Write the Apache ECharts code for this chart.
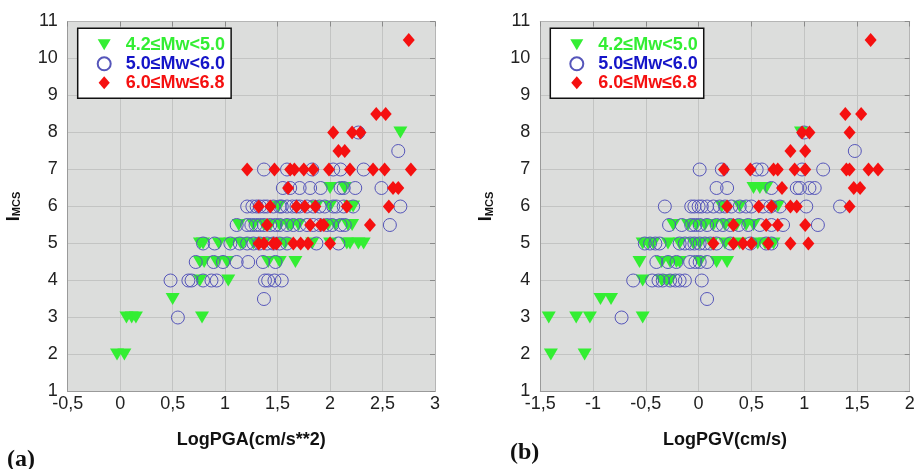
<!DOCTYPE html>
<html>
<head>
<meta charset="utf-8">
<script src="https://cdn.jsdelivr.net/npm/echarts@6/dist/echarts.min.js"></script>
<style>
html,body{margin:0;padding:0;background:#fff;}
#chart{width:918px;height:469px;}
</style>
</head>
<body>
<div id="chart"></div>
<script>
// ---- data ----
var seriesNames = ['4.2≤Mw<5.0', '5.0≤Mw<6.0', '6.0≤Mw≤6.8'];
var pgaTicks = [-0.5, 0, 0.5, 1, 1.5, 2, 2.5, 3];
var pgvTicks = [-1.5, -1, -0.5, 0, 0.5, 1, 1.5, 2];
var imcsTicks = [1, 2, 3, 4, 5, 6, 7, 8, 9, 10, 11];

var pgaGreen = [
  [-0.03,2],[0.04,2],
  [0.06,3],[0.11,3],[0.15,3],[0.78,3],
  [0.50,3.5],
  [0.76,4],[1.03,4],
  [0.76,4.5],[0.80,4.5],[0.92,4.5],[1.02,4.5],[1.41,4.5],[1.52,4.5],[1.67,4.5],
  [0.76,5],[0.79,5],[0.94,5],[1.05,5],[1.15,5],[1.17,5],[1.27,5],[1.37,5],[1.49,5],[1.57,5],[1.83,5],[2.0,5],[2.16,5],[2.19,5],[2.27,5],[2.32,5],
  [1.13,5.5],[1.27,5.5],[1.37,5.5],[1.43,5.5],[1.52,5.5],[1.60,5.5],[1.63,5.5],[1.70,5.5],[1.98,5.5],[2.05,5.5],[2.17,5.5],[2.21,5.5],
  [1.51,6],[1.87,6],[2.0,6],[2.19,6],[2.22,6],
  [2.0,6.5],[2.14,6.5],
  [2.67,8]
];
var pgaBlue = [
  [0.55,3],[1.37,3.5],
  [0.48,4],[0.65,4],[0.68,4],[0.79,4],[0.87,4],[0.92,4],[1.38,4],[1.41,4],[1.47,4],[1.54,4],
  [0.72,4.5],[0.89,4.5],[0.98,4.5],[1.11,4.5],[1.22,4.5],[1.36,4.5],[1.48,4.5],
  [0.79,5],[0.90,5],[1.05,5],[1.14,5],[1.21,5],[1.27,5],[1.33,5],[1.40,5],[1.46,5],[1.52,5],[1.59,5],[1.87,5],[2.08,5],
  [1.11,5.5],[1.21,5.5],[1.25,5.5],[1.29,5.5],[1.33,5.5],[1.37,5.5],[1.43,5.5],[1.48,5.5],[1.52,5.5],[1.59,5.5],[1.65,5.5],[1.71,5.5],[1.78,5.5],[1.84,5.5],[1.90,5.5],[1.97,5.5],[2.02,5.5],[2.10,5.5],[2.14,5.5],[2.57,5.5],
  [1.21,6],[1.26,6],[1.30,6],[1.33,6],[1.37,6],[1.40,6],[1.46,6],[1.52,6],[1.54,6],[1.59,6],[1.64,6],[1.68,6],[1.71,6],[1.78,6],[1.84,6],[1.90,6],[1.95,6],[2.03,6],[2.06,6],[2.13,6],[2.22,6],[2.67,6],
  [1.55,6.5],[1.62,6.5],[1.71,6.5],[1.81,6.5],[1.91,6.5],[2.10,6.5],[2.13,6.5],[2.24,6.5],[2.49,6.5],
  [1.37,7],[1.59,7],[1.83,7],[2.03,7],[2.10,7],[2.32,7],
  [2.65,7.5],
  [2.27,8]
];
var pgaRed = [
  [1.32,5],[1.37,5],[1.46,5],[1.49,5],[1.65,5],[1.72,5],[1.79,5],[2.0,5],
  [1.40,5.5],[1.81,5.5],[1.91,5.5],[1.94,5.5],[2.38,5.5],
  [1.32,6],[1.43,6],[1.68,6],[1.76,6],[1.86,6],[2.16,6],[2.56,6],
  [1.60,6.5],[2.60,6.5],[2.65,6.5],
  [1.21,7],[1.47,7],[1.62,7],[1.66,7],[1.75,7],[1.84,7],[1.99,7],[2.19,7],[2.41,7],[2.52,7],[2.77,7],
  [2.08,7.5],[2.14,7.5],
  [2.03,8],[2.21,8],[2.29,8],
  [2.44,8.5],[2.53,8.5],
  [2.75,10.5]
];
var pgvGreen = [
  [-1.40,2],[-1.08,2],
  [-1.42,3],[-1.16,3],[-1.03,3],[-0.53,3],
  [-0.93,3.5],[-0.83,3.5],
  [-0.53,4],[-0.35,4],[-0.30,4],[-0.27,4],
  [-0.56,4.5],[-0.35,4.5],[-0.27,4.5],[-0.21,4.5],[-0.18,4.5],[0.01,4.5],[0.17,4.5],[0.27,4.5],
  [-0.53,5],[-0.48,5],[-0.43,5],[-0.29,5],[-0.18,5],[-0.05,5],[0.01,5],[0.12,5],[0.25,5],[0.39,5],[0.56,5],[0.63,5],[0.71,5],
  [-0.24,5.5],[-0.10,5.5],[-0.02,5.5],[0.06,5.5],[0.14,5.5],[0.25,5.5],[0.36,5.5],[0.45,5.5],[0.52,5.5],
  [0.22,6],[0.39,6],[0.75,6],
  [0.52,6.5],[0.58,6.5],[0.64,6.5],
  [0.97,8]
];
var pgvBlue = [
  [-0.73,3],[0.08,3.5],
  [-0.62,4],[-0.44,4],[-0.38,4],[-0.34,4],[-0.27,4],[-0.22,4],[-0.18,4],[-0.13,4],[0.03,4],
  [-0.40,4.5],[-0.29,4.5],[-0.21,4.5],[-0.08,4.5],[-0.03,4.5],[0.01,4.5],[0.08,4.5],
  [-0.51,5],[-0.46,5],[-0.41,5],[-0.37,5],[-0.18,5],[-0.13,5],[-0.08,5],[-0.04,5],[0.01,5],[0.06,5],[0.11,5],[0.17,5],[0.30,5],[0.49,5],[0.64,5],[0.69,5],
  [-0.28,5.5],[-0.16,5.5],[-0.07,5.5],[-0.03,5.5],[0.01,5.5],[0.08,5.5],[0.17,5.5],[0.23,5.5],[0.30,5.5],[0.38,5.5],[0.47,5.5],[0.58,5.5],[0.69,5.5],[0.80,5.5],[1.13,5.5],
  [-0.32,6],[-0.07,6],[-0.04,6],[0.0,6],[0.03,6],[0.08,6],[0.14,6],[0.20,6],[0.25,6],[0.31,6],[0.39,6],[0.45,6],[0.50,6],[0.61,6],[0.68,6],[0.77,6],[1.02,6],[1.34,6],
  [0.17,6.5],[0.27,6.5],[0.69,6.5],[0.93,6.5],[0.96,6.5],[1.05,6.5],[1.10,6.5],
  [0.01,7],[0.22,7],[0.55,7],[0.60,7],[0.98,7],[1.18,7],
  [1.48,7.5],
  [1.00,8]
];
var pgvRed = [
  [0.14,5],[0.33,5],[0.42,5],[0.50,5],[0.66,5],[0.87,5],[1.04,5],
  [0.33,5.5],[0.64,5.5],[0.75,5.5],[1.01,5.5],
  [0.27,6],[0.57,6],[0.69,6],[0.87,6],[0.93,6],[1.43,6],
  [0.79,6.5],[1.47,6.5],[1.53,6.5],
  [0.24,7],[0.49,7],[0.71,7],[0.75,7],[0.91,7],[1.01,7],[1.40,7],[1.43,7],[1.61,7],[1.70,7],
  [0.87,7.5],[1.01,7.5],
  [0.98,8],[1.05,8],[1.43,8],
  [1.39,8.5],[1.54,8.5],
  [1.63,10.5]
];

// ---- styles ----
var FONT = '"Liberation Sans", Arial, sans-serif';
var GREEN = '#33ee33', BLUE_TXT = '#1414c8', BLUE = '#5656ba', RED = '#f51010';
var PLOT_BG = '#dcdddc', GRID_LINE = '#c3c4c3';

function commaFmt(v){ return String(v).replace('.', ','); }

function mkX(gridIndex, ticks, name){
  return [{
    type: 'value', gridIndex: gridIndex, position: 'bottom',
    min: ticks[0], max: ticks[ticks.length-1], interval: ticks[1]-ticks[0],
    name: name, nameLocation: 'middle', nameGap: 40,
    nameTextStyle: {fontFamily: FONT, fontSize: 18, fontWeight: 'bold', color: '#111'},
    axisLine: {show: true, onZero: false, lineStyle: {color: '#9a9a9a', width: 1}},
    axisTick: {show: false},
    axisLabel: {show: true, formatter: commaFmt, margin: 4, fontFamily: FONT, fontSize: 18, color: '#222', showMinLabel: true, showMaxLabel: true},
    splitLine: {show: true, lineStyle: {color: GRID_LINE, width: 1}}
  }, {
    type: 'value', gridIndex: gridIndex, position: 'top',
    min: ticks[0], max: ticks[ticks.length-1], interval: ticks[1]-ticks[0],
    axisLine: {show: true, onZero: false, lineStyle: {color: '#b5b5b5', width: 1}},
    axisTick: {show: true, inside: true, length: 5, lineStyle: {color: '#8a8a8a'}},
    axisLabel: {show: false}, splitLine: {show: false}
  }];
}
function mkY(gridIndex){
  return [{
    type: 'value', gridIndex: gridIndex, position: 'left',
    min: imcsTicks[0], max: imcsTicks[imcsTicks.length-1], interval: 1,
    name: '{a|I}{b|MCS}', nameLocation: 'middle', nameRotate: 90, nameGap: 45,
    nameTextStyle: {
      color: '#111',
      rich: {
        a: {fontFamily: FONT, fontSize: 18, fontWeight: 'bold', color: '#111', verticalAlign: 'bottom', lineHeight: 18},
        b: {fontFamily: FONT, fontSize: 11, fontWeight: 'bold', color: '#111', verticalAlign: 'bottom', lineHeight: 13}
      }
    },
    axisLine: {show: true, onZero: false, lineStyle: {color: '#9a9a9a', width: 1}},
    axisTick: {show: false},
    axisLabel: {show: true, margin: 10, fontFamily: FONT, fontSize: 18, color: '#222', showMinLabel: true, showMaxLabel: true},
    splitLine: {show: true, lineStyle: {color: GRID_LINE, width: 1}}
  }, {
    type: 'value', gridIndex: gridIndex, position: 'right',
    min: imcsTicks[0], max: imcsTicks[imcsTicks.length-1], interval: 1,
    axisLine: {show: true, onZero: false, lineStyle: {color: '#b5b5b5', width: 1}},
    axisTick: {show: true, inside: true, length: 5, lineStyle: {color: '#8a8a8a'}},
    axisLabel: {show: false}, splitLine: {show: false}
  }];
}

function mkSeries(xi, yi, g, b, r){
  return [
    {type: 'scatter', name: seriesNames[0], xAxisIndex: xi, yAxisIndex: yi, data: g,
     symbol: 'triangle', symbolRotate: 180, symbolSize: [14, 12],
     itemStyle: {color: GREEN, opacity: 1}, silent: true, animation: false, z: 2},
    {type: 'scatter', name: seriesNames[1], xAxisIndex: xi, yAxisIndex: yi, data: b,
     symbol: 'circle', symbolSize: 13,
     itemStyle: {color: 'rgba(0,0,0,0)', borderColor: BLUE, borderWidth: 1, opacity: 1}, silent: true, animation: false, z: 3},
    {type: 'scatter', name: seriesNames[2], xAxisIndex: xi, yAxisIndex: yi, data: r,
     symbol: 'diamond', symbolSize: [12, 14],
     itemStyle: {color: RED, opacity: 1}, silent: true, animation: false, z: 4}
  ];
}

function mkLegend(left){
  return {
    show: true, orient: 'vertical', left: left, top: 28.3,
    backgroundColor: '#ffffff', borderColor: '#111', borderWidth: 1.5, borderRadius: 0,
    padding: [7, 6, 6, 19], itemGap: 0, itemWidth: 13, itemHeight: 13,
    selectedMode: false,
    textStyle: {fontFamily: FONT, fontSize: 18, fontWeight: 'bold', lineHeight: 19, padding: [0, 0, 0, 10]},
    data: [
      {name: seriesNames[0], icon: 'path://M0,0L14,0L7,12Z', textStyle: {color: GREEN, padding: [0, 0, 0, 10]}},
      {name: seriesNames[1], icon: 'circle', textStyle: {color: BLUE_TXT, padding: [0, 0, 0, 10]}},
      {name: seriesNames[2], icon: 'path://M6,0L12,7L6,14L0,7Z', textStyle: {color: RED, padding: [0, 0, 0, 10]}}
    ]
  };
}

var chart = echarts.init(document.getElementById('chart'), null, {renderer: 'canvas'});
var xA = mkX(0, pgaTicks, 'LogPGA(cm/s**2)').concat(mkX(1, pgvTicks, 'LogPGV(cm/s)'));
var yA = mkY(0).concat(mkY(1));
chart.setOption({
  backgroundColor: '#ffffff',
  animation: false,
  grid: [
    {left: 67.7, top: 21.5, width: 367.3, height: 370, show: true, backgroundColor: PLOT_BG, borderWidth: 0, containLabel: false},
    {left: 540.3, top: 21.5, width: 369.4, height: 370, show: true, backgroundColor: PLOT_BG, borderWidth: 0, containLabel: false}
  ],
  xAxis: xA,
  yAxis: yA,
  legend: [mkLegend(77.7), mkLegend(550.3)],
  series: mkSeries(0, 0, pgaGreen, pgaBlue, pgaRed).concat(mkSeries(2, 2, pgvGreen, pgvBlue, pgvRed)),
  graphic: [
    {type: 'text', left: 7, top: 448, style: {text: '(a)', font: 'bold 24px "Liberation Serif", "Times New Roman", serif', fill: '#111'}},
    {type: 'text', left: 510, top: 441, style: {text: '(b)', font: 'bold 24px "Liberation Serif", "Times New Roman", serif', fill: '#111'}}
  ]
});
</script>
</body>
</html>
